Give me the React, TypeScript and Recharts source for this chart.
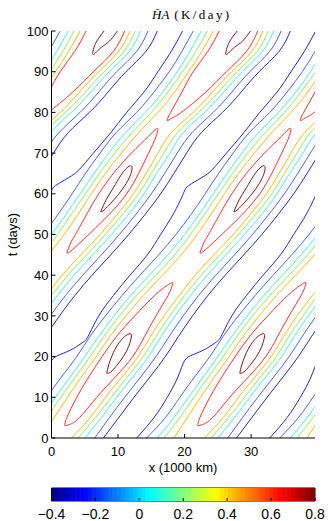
import React from 'react';
import { ComposedChart, Line, Bar, Cell, XAxis, YAxis, ReferenceArea } from 'recharts';

const FONT = '"Liberation Sans", Arial, Helvetica, sans-serif';
const SERIF = '"Liberation Serif", "Times New Roman", serif';

const T_ROWS = [0, 5, 10, 15, 20, 25, 30, 35, 40, 45, 50, 55, 60, 65, 70, 75, 80, 85, 90, 95, 100];

// the pattern repeats every 20 (1000 km) in x; x below is "unwrapped" along one crest
const X_PERIOD = 20;
const X_MAX = 39.6;
const X_TICKS = [0, 10, 20, 30];
const T_TICKS = [0, 10, 20, 30, 40, 50, 60, 70, 80, 90, 100];

// long contours on the upstream (left) side of the crest
const blueLeft = [-5.7, -2.9, -0.7, 1.5, 3.8, 5.8, 8.1, 10.6, 13.3, 16.1, 18.7, 21.0, 23.1, 25.1, 27.3, 29.7, 32.8, 35.4, 37.7, 39.6, 41.3];
const cyanLeft = [-4.1, -1.6, 0.6, 2.8, 5.0, 7.1, 9.4, 11.9, 14.7, 17.5, 20.0, 22.2, 24.3, 26.4, 28.6, 31.1, 34.1, 36.7, 38.9, 40.8, 42.5];
const greenLeft = [-3.1, -0.7, 1.4, 3.6, 5.8, 7.9, 10.2, 12.8, 15.7, 18.5, 20.9, 23.0, 25.1, 27.2, 29.5, 32.1, 35.0, 37.5, 39.7, 41.7, 43.4];
const orangeLeft = [-1.6, 0.4, 2.4, 4.5, 6.7, 8.8, 11.2, 13.8, 16.7, 19.5, 21.9, 24.0, 26.0, 28.1, 30.5, 33.1, 36.0, 38.5, 40.6, 42.6, 44.3];

// long contours on the downstream (right) side of the crest
const orangeRight = [3.0, 5.8, 8.1, 10.6, 13.0, 14.9, 16.9, 19.2, 21.6, 24.4, 27.3, 29.9, 32.3, 34.2, 36.0, 38.0, 41.3, 44.2, 47.1, 50.1, 51.8];
const greenRight = [4.0, 6.6, 9.0, 11.4, 13.8, 15.7, 17.8, 20.0, 22.5, 25.3, 28.1, 30.7, 33.1, 35.0, 36.9, 38.9, 42.1, 45.1, 47.9, 50.9, 52.6];
const cyanRight = [5.0, 7.5, 9.8, 12.2, 14.6, 16.5, 18.6, 20.9, 23.4, 26.2, 29.0, 31.6, 33.9, 35.8, 37.8, 39.8, 43.0, 45.9, 48.7, 51.7, 53.4];
const blueRight = [6.5, 8.7, 11.0, 13.4, 15.7, 17.7, 19.8, 22.1, 24.7, 27.5, 30.2, 32.7, 35.0, 37.0, 38.9, 41.1, 44.3, 47.1, 49.8, 52.8, 54.5];
const darkBlueRight = [7.8, 10.1, 12.4, 14.8, 17.1, 19.1, 21.2, 23.5, 26.1, 28.9, 31.6, 34.1, 36.4, 38.4, 40.3, 42.5, 45.7, 48.5, 51.2, 54.2, 55.9];

// contours read as [x, t] (dark blue upstream line has flat kinks near t = 21 and t = 63)
const darkBlueLeft = [[-7.2, 0], [-4.6, 5], [-2.6, 10], [-1.0, 15], [0.0, 19], [1.3, 20.5], [3.3, 22], [4.7, 23.5], [5.5, 25], [7.1, 30], [9.3, 35], [11.8, 40], [14.4, 45], [16.4, 50], [18.3, 55], [19.8, 60], [20.6, 62], [22.6, 64], [24.2, 66], [26.3, 70], [28.9, 75], [31.3, 80], [33.9, 85], [36.0, 90], [38.0, 95], [39.7, 100]];
const redLow = [[2.0, 3.0], [2.3, 5], [3.8, 10], [5.6, 15], [7.6, 20], [9.8, 25], [12.5, 30], [15.5, 35], [17.3, 37.4], [18.2, 38.2], [18.1, 37.2], [17.5, 35], [15.7, 30], [14.0, 25], [12.2, 20], [9.6, 15], [6.8, 10], [4.2, 5], [2.7, 3.3], [2.0, 3.0]];
const redMid = [[22.3, 45.5], [22.9, 48], [23.6, 50], [25.3, 55], [27.1, 60], [29.3, 65], [32.0, 70], [34.5, 74], [35.9, 76.1], [35.7, 74], [34.6, 70], [33.1, 65], [31.3, 60], [28.7, 55], [25.6, 50], [24.3, 48], [22.8, 45.8], [22.3, 45.5]];
const redTop = [[45.2, 100], [43.5, 95], [41.3, 90], [39.6, 85], [37.9, 80], [37.4, 78.0], [38.1, 78.6], [39.5, 80], [43.2, 85], [46.3, 90], [49.3, 95], [51.0, 100]];
const darkRedLow = [[8.3, 15.9], [8.6, 18], [9.3, 21], [10.2, 23.5], [11.2, 25.2], [11.9, 25.6], [12.0, 24.8], [11.6, 22.5], [10.8, 20], [9.8, 17.8], [8.9, 16.2], [8.3, 15.9]];
const darkRedMid = [[27.4, 55.6], [28.2, 58.5], [29.3, 61.5], [30.4, 64.5], [31.3, 66.3], [31.9, 66.9], [32.1, 66.2], [31.7, 64.0], [30.6, 61.0], [29.2, 58.2], [27.9, 56.0], [27.4, 55.6]];
const darkRedTop = [[47.9, 100], [46.8, 97.5], [46.3, 95.5], [46.2, 94.3], [46.6, 94.6], [47.5, 96], [48.7, 97.5], [49.9, 100]];

const C_DARK_BLUE = '#2424c8';
const C_BLUE = '#3f66ff';
const C_CYAN = '#45eeff';
const C_GREEN = '#95ee5a';
const C_ORANGE = '#ffbb10';
const C_RED = '#ff2a2a';
const C_DARK_RED = '#8a1010';

// colour bar
const CBAR_MIN = -0.4;
const CBAR_MAX = 0.8;
const CBAR_TICKS = [-0.4, -0.2, 0, 0.2, 0.4, 0.6, 0.8];
const CBAR_BINS = 64;

type Pt = { x: number; t: number };

const fromRows = (xs: number[]): Pt[] => xs.map((x, i) => ({ x, t: T_ROWS[i] }));
const fromPairs = (pts: number[][]): Pt[] => pts.map(([x, t]) => ({ x, t }));

const contours = [
  { key: 'dbl', color: C_DARK_BLUE, pts: fromPairs(darkBlueLeft) },
  { key: 'bl', color: C_BLUE, pts: fromRows(blueLeft) },
  { key: 'cl', color: C_CYAN, pts: fromRows(cyanLeft) },
  { key: 'gl', color: C_GREEN, pts: fromRows(greenLeft) },
  { key: 'ol', color: C_ORANGE, pts: fromRows(orangeLeft) },
  { key: 'or', color: C_ORANGE, pts: fromRows(orangeRight) },
  { key: 'gr', color: C_GREEN, pts: fromRows(greenRight) },
  { key: 'cr', color: C_CYAN, pts: fromRows(cyanRight) },
  { key: 'br', color: C_BLUE, pts: fromRows(blueRight) },
  { key: 'dbr', color: C_DARK_BLUE, pts: fromRows(darkBlueRight) },
  { key: 'r1', color: C_RED, pts: fromPairs(redLow) },
  { key: 'r2', color: C_RED, pts: fromPairs(redMid) },
  { key: 'r3', color: C_RED, pts: fromPairs(redTop) },
  { key: 'd1', color: C_DARK_RED, pts: fromPairs(darkRedLow) },
  { key: 'd2', color: C_DARK_RED, pts: fromPairs(darkRedMid) },
  { key: 'd3', color: C_DARK_RED, pts: fromPairs(darkRedTop) },
];

const series = contours.flatMap((c) =>
  [-2, -1, 0, 1, 2]
    .map((k) => ({
      key: `${c.key}_${k}`,
      color: c.color,
      data: c.pts.map((p) => ({ x: p.x + k * X_PERIOD, t: p.t })),
    }))
    .filter((s) => s.data.some((p) => p.x > -1 && p.x < X_MAX + 1)),
);

function jet(f: number) {
  const c = (v: number) => Math.round(255 * Math.max(0, Math.min(1, v)));
  return `rgb(${c(1.5 - Math.abs(4 * f - 3))},${c(1.5 - Math.abs(4 * f - 2))},${c(1.5 - Math.abs(4 * f - 1))})`;
}

const binW = (CBAR_MAX - CBAR_MIN) / CBAR_BINS;
const cbarData = Array.from({ length: CBAR_BINS }, (_, i) => ({
  v: CBAR_MIN + (i + 0.5) * binW,
  h: 1,
  color: jet((i + 0.5) / CBAR_BINS),
}));

const fmtBar = (v: number) => (v < 0 ? `\u2212${Math.abs(v)}` : String(v));

const tickStyle = { fill: '#000', fontSize: 13, fontFamily: FONT };

export default function App() {
  return (
    <div style={{ position: 'absolute', left: 0, top: 0, width: 332, height: 521, background: '#fff' }}>
      <div
        style={{
          position: 'absolute',
          left: 152,
          top: 7,
          fontFamily: SERIF,
          fontSize: 13,
          lineHeight: '16px',
          whiteSpace: 'nowrap',
          color: '#000',
        }}
      >
        <i>H&#772;A</i>
        <span style={{ marginLeft: 5, letterSpacing: 2.4 }}>(K/day)</span>
      </div>

      <div style={{ position: 'absolute', left: 0, top: 0 }}>
        <ComposedChart width={332} height={476} margin={{ top: 31, right: 17, bottom: 0, left: 0 }}>
          <XAxis
            type="number"
            dataKey="x"
            domain={[0, X_MAX]}
            ticks={X_TICKS}
            allowDataOverflow
            height={38}
            stroke="#000"
            tickSize={-4}
            tickMargin={13}
            tick={tickStyle}
            label={() => (
              <text x={183} y={472} textAnchor="middle" fontSize={13} fontFamily={FONT} fill="#000">
                x (1000 km)
              </text>
            )}
          />
          <XAxis
            xAxisId="top"
            orientation="top"
            type="number"
            domain={[0, X_MAX]}
            ticks={X_TICKS}
            allowDataOverflow
            height={0}
            stroke="#000"
            tickSize={-4}
            tick={false}
          />
          <YAxis
            type="number"
            dataKey="t"
            domain={[0, 100]}
            ticks={T_TICKS}
            allowDataOverflow
            width={51.5}
            stroke="#000"
            tickSize={-4}
            tickMargin={7}
            tick={tickStyle}
            label={() => (
              <text
                x={17}
                y={234.5}
                transform="rotate(-90 17 234.5)"
                textAnchor="middle"
                fontSize={13}
                fontFamily={FONT}
                fill="#000"
              >
                t (days)
              </text>
            )}
          />
          <YAxis
            yAxisId="right"
            orientation="right"
            type="number"
            domain={[0, 100]}
            ticks={T_TICKS}
            allowDataOverflow
            width={0}
            stroke="#000"
            tickSize={-4}
            tick={false}
          />
          {series.map((s) => (
            <Line
              key={s.key}
              data={s.data}
              dataKey="t"
              type="natural"
              stroke={s.color}
              strokeWidth={1}
              dot={false}
              activeDot={false}
              isAnimationActive={false}
            />
          ))}
        </ComposedChart>
      </div>

      <div style={{ position: 'absolute', left: 0, top: 470 }}>
        <ComposedChart
          width={332}
          height={51}
          data={cbarData}
          barCategoryGap={0}
          margin={{ top: 18, right: 17, bottom: 0, left: 51.5 }}
        >
          <XAxis
            type="number"
            dataKey="v"
            domain={[CBAR_MIN, CBAR_MAX]}
            ticks={CBAR_TICKS}
            allowDataOverflow
            height={20}
            axisLine={false}
            stroke="#000"
            tickSize={-3}
            tickMargin={11}
            tickFormatter={fmtBar}
            tick={{ fill: '#000', fontSize: 14, fontFamily: FONT }}
          />
          <YAxis type="number" domain={[0, 1]} allowDataOverflow hide />
          <Bar dataKey="h" barSize={5} isAnimationActive={false}>
            {cbarData.map((d, i) => (
              <Cell key={i} fill={d.color} stroke={d.color} strokeWidth={1} />
            ))}
          </Bar>
          <XAxis
            xAxisId="top"
            orientation="top"
            type="number"
            domain={[CBAR_MIN, CBAR_MAX]}
            ticks={CBAR_TICKS}
            allowDataOverflow
            height={0}
            axisLine={false}
            stroke="#000"
            tickSize={-3}
            tick={false}
          />
          <ReferenceArea
            x1={CBAR_MIN}
            x2={CBAR_MAX}
            y1={0}
            y2={1}
            fill="none"
            fillOpacity={0}
            stroke="#000"
            strokeWidth={1}
            ifOverflow="visible"
          />
        </ComposedChart>
      </div>
    </div>
  );
}
